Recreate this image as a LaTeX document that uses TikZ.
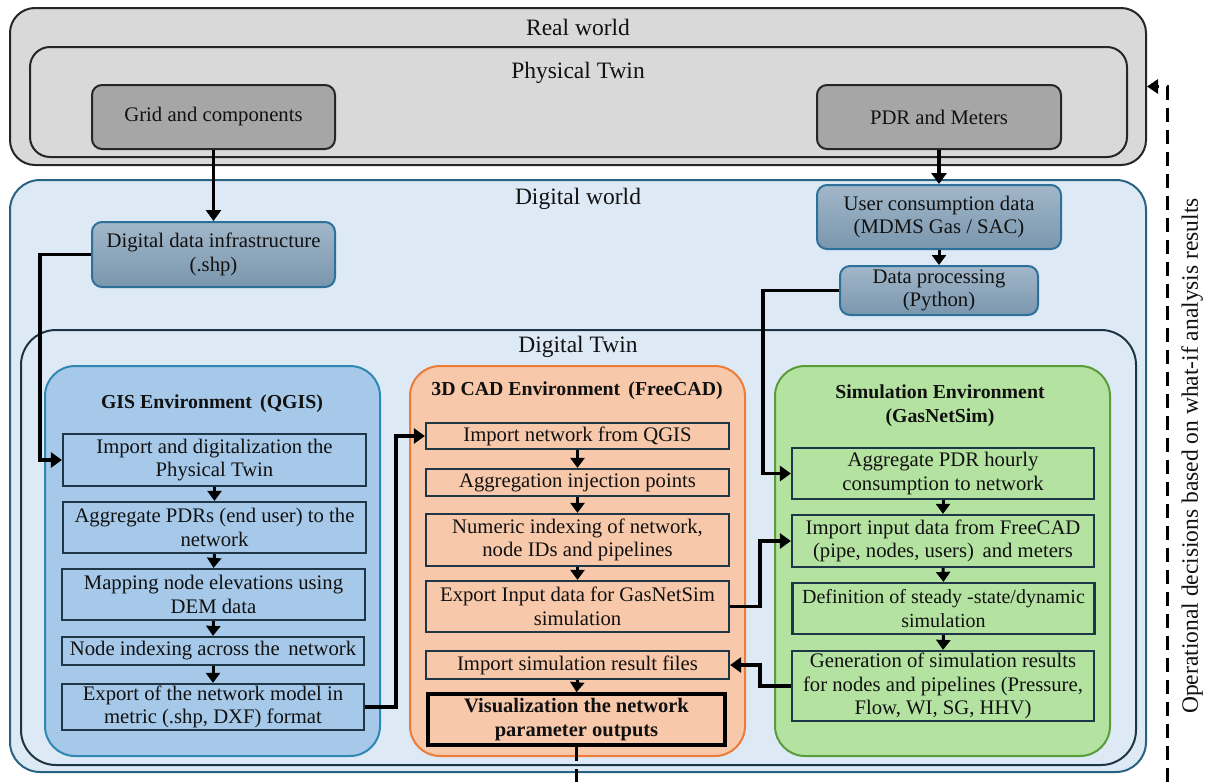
\documentclass[tikz,border=0pt]{standalone}
\usepackage{fontspec}
\setmainfont{Liberation Serif}
\usetikzlibrary{arrows.meta}
\definecolor{rwfill}{HTML}{D9D9D9}
\definecolor{dkgray}{HTML}{A6A6A6}
\definecolor{dwfill}{HTML}{DDEAF6}
\definecolor{dwline}{HTML}{2A6283}
\definecolor{dtline}{HTML}{1D3445}
\definecolor{gisfill}{HTML}{A6C9EA}
\definecolor{gisline}{HTML}{2E88B2}
\definecolor{cadfill}{HTML}{F7C8AA}
\definecolor{cadline}{HTML}{EC7C38}
\definecolor{simfill}{HTML}{B4E2A0}
\definecolor{simline}{HTML}{5B9B3B}
\definecolor{innerline}{HTML}{1F3646}
\definecolor{dtop}{HTML}{A2B7C9}
\definecolor{dbot}{HTML}{7A96AE}
\definecolor{dline}{HTML}{2D7099}
\definecolor{txt}{HTML}{111111}
\tikzset{
  container/.style={draw, line width=2pt, inner sep=0pt},
  physbox/.style={draw=black!85, fill=dkgray, line width=2pt, rounded corners=10pt, inner sep=0pt},
  databox/.style={draw=dline, top color=dtop, bottom color=dbot, line width=2pt, rounded corners=10pt, inner sep=0pt, align=center},
  stepbox/.style={draw=innerline, line width=2.2pt, inner sep=0pt, align=center},
  lbl/.style={inner sep=0pt, align=center},
  conn/.style={line width=3.2pt, -{Triangle[length=11pt,width=15pt]}},
  sconn/.style={line width=3pt, -{Triangle[length=10pt,width=14pt]}},
  dconn/.style={line width=3pt, dash pattern=on 14pt off 8pt},
}
\newcommand{\mainsz}{\fontsize{20.7}{23.5}\selectfont}
\newcommand{\bigsz}{\fontsize{23.5}{27}\selectfont}
\newcommand{\titlesz}{\fontsize{19.8}{23.5}\selectfont\bfseries}
\begin{document}
\begin{tikzpicture}[x=1pt,y=-1pt, font=\mainsz, text=txt]
\useasboundingbox (0,0) rectangle (1205,782);
% Real world
\node[container, draw=black!85, fill=rwfill, rounded corners=25pt, minimum width=1136pt, minimum height=157pt] (rw) at (578,86.5) {};
\node[lbl, font=\bigsz] (rwl) at (578,27) {Real world};
\node[container, draw=black!85, fill=rwfill, rounded corners=20pt, minimum width=1097pt, minimum height=110pt] (pt) at (578.5,102) {};
\node[lbl, font=\bigsz] (ptl) at (578,73) {Physical Twin};
\node[physbox, minimum width=243pt, minimum height=64pt] (grid) at (213.5,117) {Grid and components};
\node[physbox, minimum width=244pt, minimum height=64pt] (pdr) at (939,117) {PDR and Meters};
% Digital world
\node[container, draw=dwline, fill=dwfill, rounded corners=30pt, minimum width=1136pt, minimum height=592pt] (dw) at (578,476) {};
\node[lbl, font=\bigsz] (dwl) at (578,199) {Digital world};
\node[databox, minimum width=243pt, minimum height=65pt] (ddi) at (213.5,254.5) {Digital data infrastructure\\(.shp)};
\node[databox, minimum width=244pt, minimum height=64pt] (ucd) at (939,217) {User consumption data\\(MDMS Gas / SAC)};
\node[databox, minimum width=198pt, minimum height=49pt] (dp) at (939,290.5) {Data processing\\(Python)};
% Digital twin
\node[container, draw=dtline, fill=dwfill, rounded corners=35pt, minimum width=1115pt, minimum height=435pt] (dt) at (578.5,547.5) {};
\node[lbl, font=\bigsz] (dtl) at (578,347) {Digital Twin};
% Environments
\node[container, draw=gisline, fill=gisfill, rounded corners=30pt, minimum width=335pt, minimum height=390pt] (gis) at (212.5,561) {};
\node[lbl, font=\titlesz] (gisl) at (212,404) {GIS Environment \,(QGIS)};
\node[container, draw=cadline, fill=cadfill, rounded corners=30pt, minimum width=335pt, minimum height=390pt] (cad) at (577.5,561) {};
\node[lbl, font=\titlesz] (cadl) at (577,391) {3D CAD Environment \,(FreeCAD)};
\node[container, draw=simline, fill=simfill, rounded corners=30pt, minimum width=335pt, minimum height=390pt] (sim) at (942.5,561) {};
\node[lbl, font=\titlesz] (siml) at (940,405.5) {Simulation Environment\\(GasNetSim)};
% GIS steps
\node[stepbox, minimum width=303pt, minimum height=52pt] (g1) at (214.5,460) {Import and digitalization the\\Physical Twin};
\node[stepbox, minimum width=303pt, minimum height=51pt] (g2) at (214.5,527.5) {Aggregate PDRs (end user) to the\\network};
\node[stepbox, minimum width=303pt, minimum height=51pt] (g3) at (213.5,594.5) {Mapping node elevations using\\DEM data};
\node[stepbox, minimum width=302pt, minimum height=28pt] (g4) at (213,651) {Node indexing across the \,network};
\node[stepbox, minimum width=302pt, minimum height=46pt] (g5) at (213,707) {Export of the network model in\\metric (.shp, DXF) format};
% CAD steps
\node[stepbox, minimum width=303pt, minimum height=26pt] (c1) at (577.5,436) {Import network from QGIS};
\node[stepbox, minimum width=303pt, minimum height=27pt] (c2) at (577.5,482.5) {Aggregation injection points};
\node[stepbox, minimum width=303pt, minimum height=52pt] (c3) at (577.5,540) {Numeric indexing of network,\\node IDs and pipelines};
\node[stepbox, minimum width=303pt, minimum height=51pt] (c4) at (577.5,606.5) {Export Input data for GasNetSim\\simulation};
\node[stepbox, minimum width=303pt, minimum height=28pt] (c5) at (577.5,665) {Import simulation result files};
\node[stepbox, draw=black, line width=3.6pt, minimum width=297pt, minimum height=51pt, font=\fontsize{20.5}{23.5}\selectfont\bfseries] (c6) at (576.5,719.5) {Visualization the network\\parameter outputs};
% Sim steps
\node[stepbox, minimum width=302pt, minimum height=51pt] (s1) at (943,473.5) {Aggregate PDR hourly\\consumption to network};
\node[stepbox, minimum width=302pt, minimum height=52pt] (s2) at (943,541) {Import input data from FreeCAD\\(pipe, nodes, users) \,and meters};
\node[stepbox, minimum width=302pt, minimum height=51pt, font=\fontsize{20}{23.5}\selectfont] (s3) at (943.5,608.5) {Definition of steady -state/dynamic\\simulation};
\node[stepbox, minimum width=302pt, minimum height=70pt] (s4) at (943,686) {Generation of simulation results\\for nodes and pipelines (Pressure,\\Flow, WI, SG, HHV)};
% side text
\node[lbl, rotate=90, font=\bigsz] (opl) at (1192,456) {Operational decisions based on what-if analysis results};
% helper coordinates
\coordinate (k1) at (40,0);
\coordinate (k2) at (396,0);
\coordinate (k3) at (763,0);
\coordinate (k4) at (760,0);
\coordinate (e1) at (576.5,782);
\coordinate (e2) at (1167,782);
% connectors
\draw[conn] (grid.south) -- (ddi.north);
\draw[conn] (pdr.south) -- (ucd.north);
\draw[sconn] (ucd.south) -- (dp.north);
\draw[conn] (ddi.west) -- (ddi.west -| k1) -- (g1.west -| k1) -- (g1.west);
\draw[conn] (g5.east) -- (g5.east -| k2) -- (c1.west -| k2) -- (c1.west);
\draw[conn] (dp.west) -- (dp.west -| k3) -- (s1.west -| k3) -- (s1.west);
\draw[conn] (c4.east) -- (c4.east -| k4) -- (s2.west -| k4) -- (s2.west);
\draw[conn] (s4.west) -- (s4.west -| k4) -- (c5.east -| k4) -- (c5.east);
\draw[sconn] (g1.south) -- (g2.north);
\draw[sconn] (g2.south) -- (g3.north);
\draw[sconn] (g3.south) -- (g4.north);
\draw[sconn] (g4.south) -- (g5.north);
\draw[sconn] (c1.south) -- (c2.north);
\draw[sconn] (c2.south) -- (c3.north);
\draw[sconn] (c3.south) -- (c4.north);
\draw[sconn] (c5.south) -- (c6.north);
\draw[sconn] (s1.south) -- (s2.north);
\draw[sconn] (s2.south) -- (s3.north);
\draw[sconn] (s3.south) -- (s4.north);
\draw[dconn] (c6.south) -- (e1);
\draw[dconn, -{Triangle[length=11pt,width=14pt]}] (e2) |- (rw.east);
\end{tikzpicture}
\end{document}
